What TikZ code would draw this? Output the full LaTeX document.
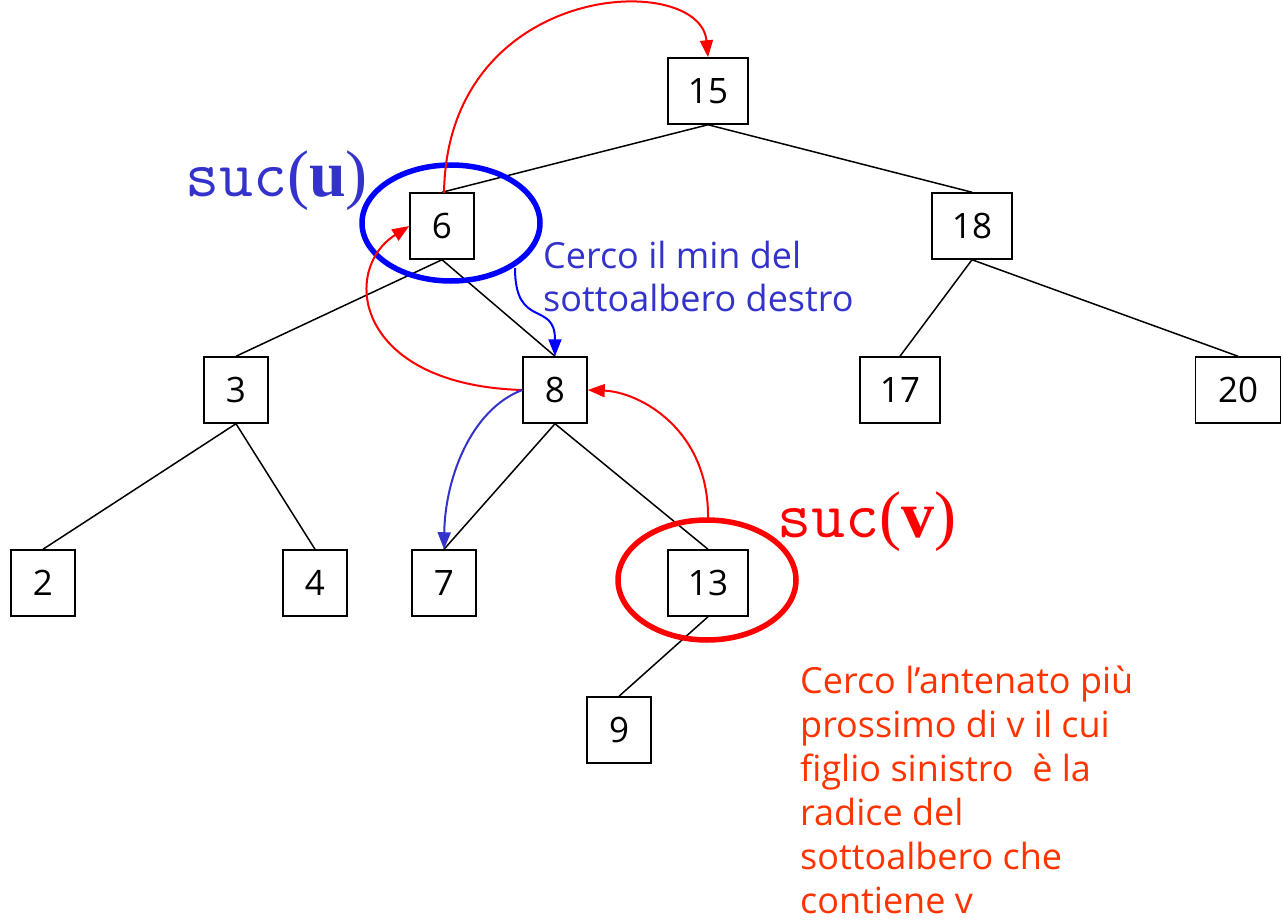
\documentclass[tikz,border=0pt]{standalone}
\usepackage{fontspec}
\setmainfont{Open Sans}
\newfontfamily\serf{Liberation Serif}
\usetikzlibrary{arrows.meta,shapes.geometric}
\definecolor{tblue}{RGB}{51,51,204}
\definecolor{tred}{RGB}{255,51,0}
\begin{document}
\begin{tikzpicture}[x=1pt,y=-1pt,
  nbox/.style={draw,line width=1.5pt,minimum width=64pt,minimum height=66pt,inner sep=0pt,font=\fontsize{35}{40}\selectfont},
  wbox/.style={nbox,minimum width=80pt},
  edge/.style={line width=1.5pt},
  arr/.style={line width=2pt,-{Triangle[length=17pt,width=13pt]}},
  ring/.style={draw,ellipse,line width=5.5pt,inner sep=0pt},
  suclab/.style={anchor=base west,inner sep=0pt,font=\fontsize{66}{66}\selectfont}
]
\useasboundingbox (0,0) rectangle (1283,920);
% nodes
\node[wbox] (n15) at (708,91) {15};
\node[nbox] (n6) at (442,226) {6};
\node[wbox] (n18) at (972,226) {18};
\node[nbox] (n3) at (236,390) {3};
\node[nbox] (n8) at (555,390) {8};
\node[wbox] (n17) at (900,390) {17};
\node[wbox,minimum width=85pt] (n20) at (1238,390) {20};
\node[nbox] (n2) at (43,583) {2};
\node[nbox] (n4) at (315,583) {4};
\node[nbox] (n7) at (444,583) {7};
\node[wbox] (n13) at (708,583) {13};
\node[nbox] (n9) at (619,730) {9};
% edges
\draw[edge] (n15.south) -- (n6.north);
\draw[edge] (n15.south) -- (n18.north);
\draw[edge] (n6.south) -- (n3.north);
\draw[edge] (n6.south) -- (n8.north);
\draw[edge] (n18.south) -- (n17.north);
\draw[edge] (n18.south) -- (n20.north);
\draw[edge] (n3.south) -- (n2.north);
\draw[edge] (n3.south) -- (n4.north);
\draw[edge] (n8.south) -- (n7.north);
\draw[edge] (n8.south) -- (n13.north);
\draw[edge] (n13.south) -- (n9.north);
% rings
\node[ring,draw=blue,minimum width=178pt,minimum height=116pt] (ru) at (451,223) {};
\node[ring,draw=red,minimum width=178pt,minimum height=120pt] (rv) at (707,580) {};
% labels
\node[suclab,text=tblue] (lu) at (185,197) {\ttfamily suc\serf(\textbf{u})};
\node[suclab,text=red] (lv) at (777,537) {\ttfamily suc\serf(\textbf{v})};
\node[anchor=north west,inner sep=0pt,align=left,text=tblue,font=\fontsize{36}{43}\selectfont] (tb) at (543,241) {Cerco il min del\\sottoalbero destro};
\node[anchor=north west,inner sep=0pt,align=left,text=tred,font=\fontsize{36}{44}\selectfont] (tr) at (800,666) {Cerco l’antenato più\\prossimo di v il cui\\figlio sinistro~ è la\\radice del\\sottoalbero che\\contiene v};
% arrows
\coordinate (a6top) at (444,193);
\draw[arr,red] (a6top) .. controls (447,-20) and (700,-30) .. (n15.north);
\draw[arr,red] (n8.west) .. controls (355,385) and (340,270) .. (n6.west);
\coordinate (ub) at (515,268);
\draw[arr,blue] (ub) .. controls (515,330) and (555,300) .. (n8.north);
\draw[arr,tblue] (n8.west) .. controls (470,410) and (445,480) .. (n7.north);
\coordinate (vt) at (708,520);
\draw[arr,red] (vt) .. controls (710,430) and (640,392) .. (n8.east);
\end{tikzpicture}
\end{document}
